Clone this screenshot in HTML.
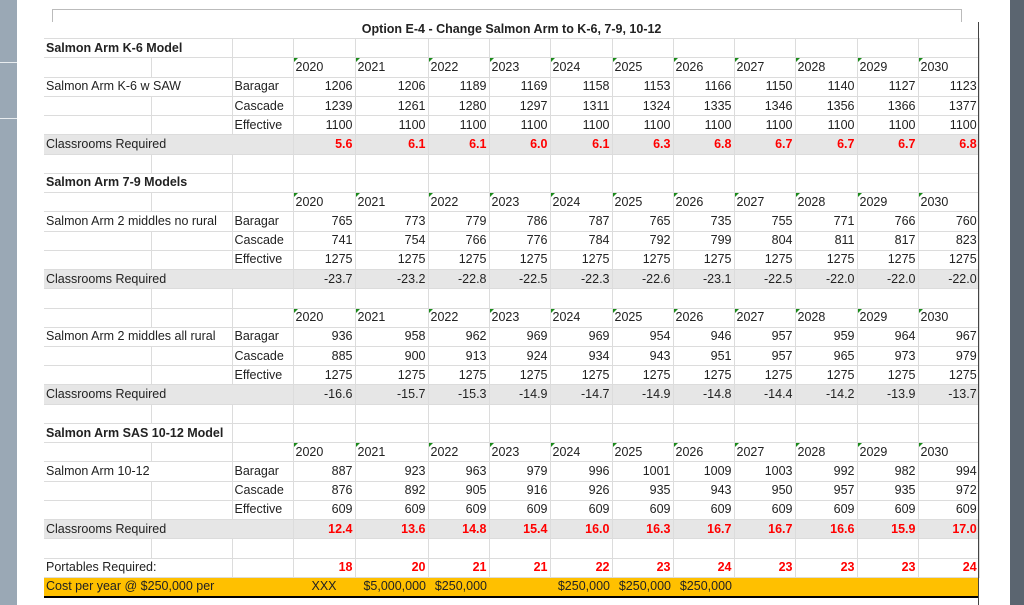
<!DOCTYPE html>
<html><head><meta charset="utf-8"><style>
body{margin:0;width:1024px;height:605px;background:#fff;position:relative;overflow:hidden;font-family:"Liberation Sans",sans-serif;font-size:12.5px;color:#222}
.ls{position:absolute;left:0;top:0;width:17px;height:605px;background:#9aa8b5}
.ls i{position:absolute;left:0;width:17px;height:1px;background:#e8ecef}
.rs{position:absolute;left:1010px;top:0;width:14px;height:605px;background:#5b6570}
.frame{position:absolute;left:52px;top:9px;width:908px;height:12px;border:1px solid #bbb;border-bottom:none}
.vl{position:absolute;left:978px;top:22px;width:1px;height:583px;background:#444}
table{position:absolute;left:44px;top:20px;border-collapse:collapse;table-layout:fixed;width:935px}
td{border:1px solid #dcdcdc;padding:0 2px;height:18.24px;line-height:17px;white-space:nowrap;overflow:visible;text-align:right}
tr td:first-child{border-left:none}
td.l{text-align:left}
tr.t td{border:none;text-align:center;font-weight:bold}
td.b{font-weight:bold}
tr.g td{background:#e6e6e6}
td.r{color:#f00;font-weight:bold}
tr.y td{text-align:left;position:relative}
tr.y td.yy:before{content:"";position:absolute;left:0;top:0;border-top:4px solid #1a8a1a;border-right:4px solid transparent}
tr.o td{background:#ffc000;border-bottom:2px solid #000}
</style></head><body>
<div class="ls"><i style="top:62px"></i><i style="top:118px"></i></div>
<div class="rs"></div>
<div class="frame"></div>
<table>
<colgroup><col style="width:107px"><col style="width:81px"><col style="width:61px"><col style="width:62px"><col style="width:73px"><col style="width:61px"><col style="width:61px"><col style="width:62px"><col style="width:61px"><col style="width:61px"><col style="width:61px"><col style="width:62px"><col style="width:61px"><col style="width:61px"></colgroup>
<tr class="t"><td colspan="14">Option E-4 - Change Salmon Arm to K-6, 7-9, 10-12</td></tr>
<tr><td class="l b" colspan="2">Salmon Arm K-6 Model</td><td></td><td></td><td></td><td></td><td></td><td></td><td></td><td></td><td></td><td></td><td></td><td></td></tr>
<tr class="y"><td></td><td></td><td></td><td class="yy">2020</td><td class="yy">2021</td><td class="yy">2022</td><td class="yy">2023</td><td class="yy">2024</td><td class="yy">2025</td><td class="yy">2026</td><td class="yy">2027</td><td class="yy">2028</td><td class="yy">2029</td><td class="yy">2030</td></tr>
<tr><td class="l" colspan="2">Salmon Arm K-6 w SAW</td><td class="l">Baragar</td><td>1206</td><td>1206</td><td>1189</td><td>1169</td><td>1158</td><td>1153</td><td>1166</td><td>1150</td><td>1140</td><td>1127</td><td>1123</td></tr>
<tr><td></td><td></td><td class="l">Cascade</td><td>1239</td><td>1261</td><td>1280</td><td>1297</td><td>1311</td><td>1324</td><td>1335</td><td>1346</td><td>1356</td><td>1366</td><td>1377</td></tr>
<tr><td></td><td></td><td class="l">Effective</td><td>1100</td><td>1100</td><td>1100</td><td>1100</td><td>1100</td><td>1100</td><td>1100</td><td>1100</td><td>1100</td><td>1100</td><td>1100</td></tr>
<tr class="g"><td class="l" colspan="3">Classrooms Required</td><td class="r">5.6</td><td class="r">6.1</td><td class="r">6.1</td><td class="r">6.0</td><td class="r">6.1</td><td class="r">6.3</td><td class="r">6.8</td><td class="r">6.7</td><td class="r">6.7</td><td class="r">6.7</td><td class="r">6.8</td></tr>
<tr><td></td><td></td><td></td><td></td><td></td><td></td><td></td><td></td><td></td><td></td><td></td><td></td><td></td><td></td></tr>
<tr><td class="l b" colspan="2">Salmon Arm 7-9 Models</td><td></td><td></td><td></td><td></td><td></td><td></td><td></td><td></td><td></td><td></td><td></td><td></td></tr>
<tr class="y"><td></td><td></td><td></td><td class="yy">2020</td><td class="yy">2021</td><td class="yy">2022</td><td class="yy">2023</td><td class="yy">2024</td><td class="yy">2025</td><td class="yy">2026</td><td class="yy">2027</td><td class="yy">2028</td><td class="yy">2029</td><td class="yy">2030</td></tr>
<tr><td class="l" colspan="2">Salmon Arm 2 middles no rural</td><td class="l">Baragar</td><td>765</td><td>773</td><td>779</td><td>786</td><td>787</td><td>765</td><td>735</td><td>755</td><td>771</td><td>766</td><td>760</td></tr>
<tr><td></td><td></td><td class="l">Cascade</td><td>741</td><td>754</td><td>766</td><td>776</td><td>784</td><td>792</td><td>799</td><td>804</td><td>811</td><td>817</td><td>823</td></tr>
<tr><td></td><td></td><td class="l">Effective</td><td>1275</td><td>1275</td><td>1275</td><td>1275</td><td>1275</td><td>1275</td><td>1275</td><td>1275</td><td>1275</td><td>1275</td><td>1275</td></tr>
<tr class="g"><td class="l" colspan="3">Classrooms Required</td><td>-23.7</td><td>-23.2</td><td>-22.8</td><td>-22.5</td><td>-22.3</td><td>-22.6</td><td>-23.1</td><td>-22.5</td><td>-22.0</td><td>-22.0</td><td>-22.0</td></tr>
<tr><td></td><td></td><td></td><td></td><td></td><td></td><td></td><td></td><td></td><td></td><td></td><td></td><td></td><td></td></tr>
<tr class="y"><td></td><td></td><td></td><td class="yy">2020</td><td class="yy">2021</td><td class="yy">2022</td><td class="yy">2023</td><td class="yy">2024</td><td class="yy">2025</td><td class="yy">2026</td><td class="yy">2027</td><td class="yy">2028</td><td class="yy">2029</td><td class="yy">2030</td></tr>
<tr><td class="l" colspan="2">Salmon Arm 2 middles all rural</td><td class="l">Baragar</td><td>936</td><td>958</td><td>962</td><td>969</td><td>969</td><td>954</td><td>946</td><td>957</td><td>959</td><td>964</td><td>967</td></tr>
<tr><td></td><td></td><td class="l">Cascade</td><td>885</td><td>900</td><td>913</td><td>924</td><td>934</td><td>943</td><td>951</td><td>957</td><td>965</td><td>973</td><td>979</td></tr>
<tr><td></td><td></td><td class="l">Effective</td><td>1275</td><td>1275</td><td>1275</td><td>1275</td><td>1275</td><td>1275</td><td>1275</td><td>1275</td><td>1275</td><td>1275</td><td>1275</td></tr>
<tr class="g"><td class="l" colspan="3">Classrooms Required</td><td>-16.6</td><td>-15.7</td><td>-15.3</td><td>-14.9</td><td>-14.7</td><td>-14.9</td><td>-14.8</td><td>-14.4</td><td>-14.2</td><td>-13.9</td><td>-13.7</td></tr>
<tr><td></td><td></td><td></td><td></td><td></td><td></td><td></td><td></td><td></td><td></td><td></td><td></td><td></td><td></td></tr>
<tr><td class="l b" colspan="2">Salmon Arm SAS 10-12 Model</td><td></td><td></td><td></td><td></td><td></td><td></td><td></td><td></td><td></td><td></td><td></td><td></td></tr>
<tr class="y"><td></td><td></td><td></td><td class="yy">2020</td><td class="yy">2021</td><td class="yy">2022</td><td class="yy">2023</td><td class="yy">2024</td><td class="yy">2025</td><td class="yy">2026</td><td class="yy">2027</td><td class="yy">2028</td><td class="yy">2029</td><td class="yy">2030</td></tr>
<tr><td class="l" colspan="2">Salmon Arm 10-12</td><td class="l">Baragar</td><td>887</td><td>923</td><td>963</td><td>979</td><td>996</td><td>1001</td><td>1009</td><td>1003</td><td>992</td><td>982</td><td>994</td></tr>
<tr><td></td><td></td><td class="l">Cascade</td><td>876</td><td>892</td><td>905</td><td>916</td><td>926</td><td>935</td><td>943</td><td>950</td><td>957</td><td>935</td><td>972</td></tr>
<tr><td></td><td></td><td class="l">Effective</td><td>609</td><td>609</td><td>609</td><td>609</td><td>609</td><td>609</td><td>609</td><td>609</td><td>609</td><td>609</td><td>609</td></tr>
<tr class="g"><td class="l" colspan="3">Classrooms Required</td><td class="r">12.4</td><td class="r">13.6</td><td class="r">14.8</td><td class="r">15.4</td><td class="r">16.0</td><td class="r">16.3</td><td class="r">16.7</td><td class="r">16.7</td><td class="r">16.6</td><td class="r">15.9</td><td class="r">17.0</td></tr>
<tr><td></td><td></td><td></td><td></td><td></td><td></td><td></td><td></td><td></td><td></td><td></td><td></td><td></td><td></td></tr>
<tr><td class="l" colspan="2">Portables Required:</td><td></td><td class="r">18</td><td class="r">20</td><td class="r">21</td><td class="r">21</td><td class="r">22</td><td class="r">23</td><td class="r">24</td><td class="r">23</td><td class="r">23</td><td class="r">23</td><td class="r">24</td></tr>
<tr class="o"><td class="l" colspan="3" style="border-left:none;border-right:none">Cost per year @ $250,000 per</td><td style="text-align:center;border:none;border-bottom:2px solid #000">XXX</td><td style="border:none;border-bottom:2px solid #000">$5,000,000</td><td style="border:none;border-bottom:2px solid #000">$250,000</td><td style="border:none;border-bottom:2px solid #000"></td><td style="border:none;border-bottom:2px solid #000">$250,000</td><td style="border:none;border-bottom:2px solid #000">$250,000</td><td style="border:none;border-bottom:2px solid #000">$250,000</td><td style="border:none;border-bottom:2px solid #000"></td><td style="border:none;border-bottom:2px solid #000"></td><td style="border:none;border-bottom:2px solid #000"></td><td style="border:none;border-bottom:2px solid #000"></td></tr>
</table>
<div class="vl"></div>
</body></html>
